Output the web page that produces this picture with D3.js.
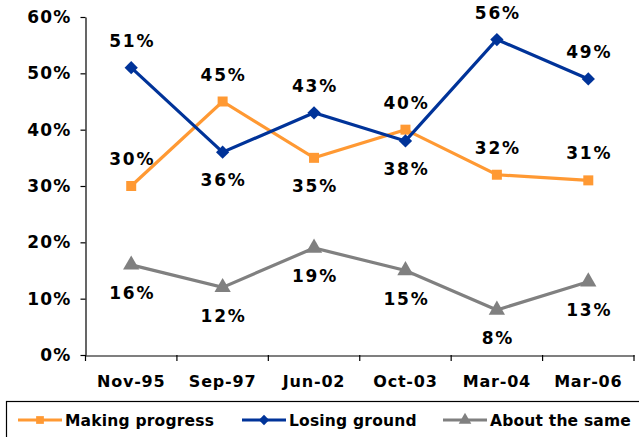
<!DOCTYPE html>
<html>
<head>
<meta charset="utf-8">
<script src="https://cdn.jsdelivr.net/npm/d3@7"></script>
<style>
  html, body { margin: 0; padding: 0; background: #fff; }
  svg { display: block; }
  text { font-family: "DejaVu Sans", Verdana, sans-serif; font-weight: bold; fill: #000; }
</style>
</head>
<body>
<script>
const categories = ["Nov-95", "Sep-97", "Jun-02", "Oct-03", "Mar-04", "Mar-06"];
const makingProgress = [30, 45, 35, 40, 32, 31];
const losingGround = [51, 36, 43, 38, 56, 49];
const aboutTheSame = [16, 12, 19, 15, 8, 13];
const yTicks = [0, 10, 20, 30, 40, 50, 60];
// label placement relative to the point
const mpPlace = ["above", "above", "below", "above", "above", "above"];
const lgPlace = ["above", "below", "above", "below", "above", "above"];
const atPlace = ["below", "below", "below", "below", "below", "below"];

const seriesList = [
  { name: "Making progress", values: makingProgress, place: mpPlace, color: "#FF9933", symbol: d3.symbolSquare, size: 100, rot: 0 },
  { name: "Losing ground", values: losingGround, place: lgPlace, color: "#003399", symbol: d3.symbolSquare, size: 88, rot: 45 },
  { name: "About the same", values: aboutTheSame, place: atPlace, color: "#808080", symbol: d3.symbolTriangle, size: 115, rot: 0 }
];

const W = 639, H = 437;
const svg = d3.select("body").append("svg").attr("width", W).attr("height", H);

const x = d3.scaleBand().domain(categories).range([85.5, 634]);
const y = d3.scaleLinear().domain([0, 60]).range([355, 17]);

// Y axis
const yAxis = svg.append("g").attr("transform", "translate(85.5,0)")
  .call(d3.axisLeft(y).tickValues(yTicks).tickSize(5).tickSizeOuter(0).tickFormat(d => d + "%"));
yAxis.select(".domain").attr("stroke", "#000").attr("stroke-width", 1.2);
yAxis.selectAll(".tick line").attr("stroke", "#000").attr("stroke-width", 1.2);
yAxis.selectAll(".tick text").attr("x", -14).attr("font-size", 17).attr("font-family", "DejaVu Sans").attr("font-weight", "bold")
  .attr("letter-spacing", "1.2px").attr("fill", "#000");

// X axis
const xAxis = svg.append("g").attr("transform", "translate(0,355.5)")
  .call(d3.axisBottom(x).tickSize(0).tickSizeOuter(0));
xAxis.select(".domain").attr("stroke", "#000").attr("stroke-width", 1.2);
xAxis.selectAll(".tick text").attr("y", 20).attr("dy", "0.71em").attr("font-size", 16).attr("font-family", "DejaVu Sans")
  .attr("font-weight", "bold").attr("letter-spacing", "0.8px").attr("fill", "#000");
// boundary tick marks between categories
const bounds = categories.map(c => x(c)).concat([x(categories[categories.length - 1]) + x.bandwidth()]);
svg.append("g").selectAll("line").data(bounds).join("line")
  .attr("x1", d => d).attr("x2", d => d).attr("y1", 355).attr("y2", 361)
  .attr("stroke", "#000").attr("stroke-width", 1.2);

const cx = c => x(c) + x.bandwidth() / 2;
const line = d3.line().x(d => cx(d.cat)).y(d => y(d.v));

seriesList.forEach(s => {
  const pts = s.values.map((v, i) => ({ cat: categories[i], v, place: s.place[i] }));
  svg.append("path").datum(pts).attr("d", line)
    .attr("fill", "none").attr("stroke", s.color).attr("stroke-width", 3.2).attr("stroke-linejoin", "miter");
  svg.append("g").selectAll("path").data(pts).join("path")
    .attr("d", d3.symbol().type(s.symbol).size(s.size))
    .attr("transform", d => `translate(${cx(d.cat)},${y(d.v)}) rotate(${s.rot})`)
    .attr("fill", s.color);
});

// data labels
seriesList.forEach(s => {
  const pts = s.values.map((v, i) => ({ cat: categories[i], v, place: s.place[i] }));
  svg.append("g").selectAll("text").data(pts).join("text")
    .attr("x", d => cx(d.cat) + 1)
    .attr("y", d => y(d.v) + (d.place === "above" ? -27 : 28))
    .attr("dy", "0.36em")
    .attr("text-anchor", "middle")
    .attr("font-size", 17)
    .attr("letter-spacing", "1.8px")
    .text(d => d.v + "%");
});

// Legend
const lg = svg.append("g");
lg.append("rect").attr("x", 6.5).attr("y", 401.5).attr("width", 640).attr("height", 40)
  .attr("fill", "none").attr("stroke", "#000").attr("stroke-width", 1.2);
const legendX = [18, 242, 443];
seriesList.forEach((s, i) => {
  const g = lg.append("g").attr("transform", `translate(${legendX[i]},420)`);
  g.append("line").attr("x1", 0).attr("x2", 44).attr("stroke", s.color).attr("stroke-width", 3.2);
  g.append("path").attr("d", d3.symbol().type(s.symbol).size(s.size * 0.6)).attr("transform", `translate(22,0) rotate(${s.rot})`).attr("fill", s.color);
  g.append("text").attr("x", 47).attr("y", 0).attr("dy", "0.36em").attr("font-size", 15.5).attr("letter-spacing", "0.2px").text(s.name);
});
</script>
</body>
</html>
